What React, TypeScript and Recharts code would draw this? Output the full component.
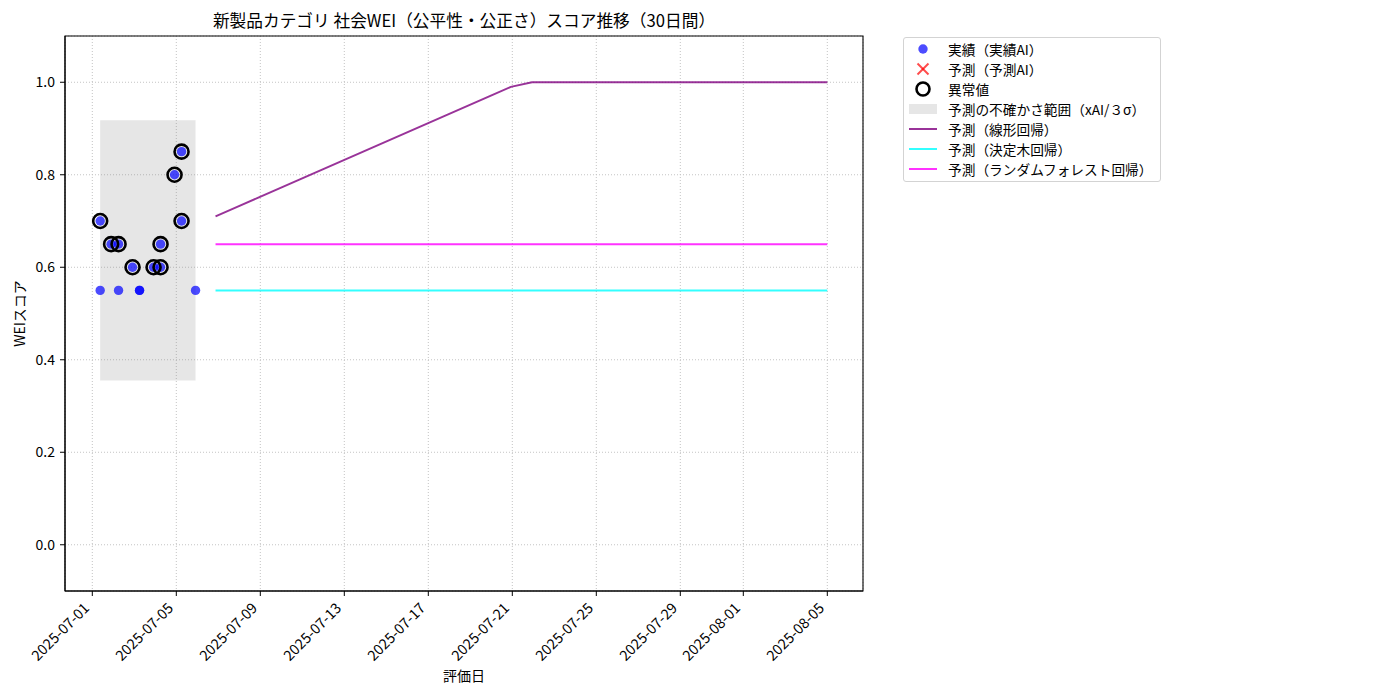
import React from "react";
import {
  CartesianGrid,
  ComposedChart,
  Label,
  Legend,
  Line,
  ReferenceArea,
  Scatter,
  XAxis,
  YAxis,
} from "recharts";

const DAY = 86400000;
const ts = (s: string) => Date.parse(s + "Z");

// actual (実績AI) observations
const ACTUAL_DATES = [
  "2025-07-01T09:00", "2025-07-01T09:00", "2025-07-01T21:30", "2025-07-02T06:00", "2025-07-02T06:00",
  "2025-07-02T22:00", "2025-07-03T06:00", "2025-07-03T06:00", "2025-07-03T22:00", "2025-07-04T06:00",
  "2025-07-04T06:00", "2025-07-04T22:00", "2025-07-05T06:00", "2025-07-05T06:00", "2025-07-05T22:00",
];
const ACTUAL_VALUES = [0.7, 0.55, 0.65, 0.65, 0.55, 0.6, 0.55, 0.55, 0.6, 0.6, 0.65, 0.8, 0.85, 0.7, 0.55];
const ANOMALY_FLAGS = [true, false, true, true, false, true, false, false, true, true, true, true, true, true, false];

// uncertainty band (xAI / 3σ)
const BAND_LOW = 0.355;
const BAND_HIGH = 0.918;

// 30-day forecasts
const FORECAST_START = "2025-07-06T20:50";
const FORECAST_END = "2025-08-05T00:00";
const LINEAR_VALUES = [
  0.71, 0.73, 0.75, 0.77, 0.79, 0.81, 0.83, 0.85, 0.87, 0.89, 0.91, 0.93, 0.95, 0.97, 0.99,
  1.0, 1.0, 1.0, 1.0, 1.0, 1.0, 1.0, 1.0, 1.0, 1.0, 1.0, 1.0, 1.0, 1.0, 1.0,
];
const TREE_VALUES = [
  0.55, 0.55, 0.55, 0.55, 0.55, 0.55, 0.55, 0.55, 0.55, 0.55, 0.55, 0.55, 0.55, 0.55, 0.55,
  0.55, 0.55, 0.55, 0.55, 0.55, 0.55, 0.55, 0.55, 0.55, 0.55, 0.55, 0.55, 0.55, 0.55, 0.55,
];
const FOREST_VALUES = [
  0.65, 0.65, 0.65, 0.65, 0.65, 0.65, 0.65, 0.65, 0.65, 0.65, 0.65, 0.65, 0.65, 0.65, 0.65,
  0.65, 0.65, 0.65, 0.65, 0.65, 0.65, 0.65, 0.65, 0.65, 0.65, 0.65, 0.65, 0.65, 0.65, 0.65,
];

const X_TICKS = [
  "2025-07-01", "2025-07-05", "2025-07-09", "2025-07-13", "2025-07-17",
  "2025-07-21", "2025-07-25", "2025-07-29", "2025-08-01", "2025-08-05",
];
const Y_TICKS = [0, 0.2, 0.4, 0.6, 0.8, 1.0];

const LEGEND_ITEMS = [
  { label: "実績（実績AI）", kind: "dot" },
  { label: "予測（予測AI）", kind: "cross" },
  { label: "異常値", kind: "ring" },
  { label: "予測の不確かさ範囲（xAI/３σ）", kind: "patch" },
  { label: "予測（線形回帰）", kind: "line", color: "#800080" },
  { label: "予測（決定木回帰）", kind: "line", color: "#00ffff" },
  { label: "予測（ランダムフォレスト回帰）", kind: "line", color: "#ff00ff" },
];

const FONT = "'Noto Sans CJK JP', 'DejaVu Sans', sans-serif";

const actualData = ACTUAL_DATES.map((d, i) => ({ x: ts(d), y: ACTUAL_VALUES[i] }));
const anomalyData = actualData.filter((_, i) => ANOMALY_FLAGS[i]);

const fStart = ts(FORECAST_START);
const fStep = (ts(FORECAST_END) - fStart) / (LINEAR_VALUES.length - 1);
const forecastDates = LINEAR_VALUES.map((_, i) => fStart + i * fStep);
const linearData = forecastDates.map((x, i) => ({ x, y: LINEAR_VALUES[i] }));
const treeData = forecastDates.map((x, i) => ({ x, y: TREE_VALUES[i] }));
const forestData = forecastDates.map((x, i) => ({ x, y: FOREST_VALUES[i] }));

const xDomain = [ts("2025-07-01T00:00") - 1.3 * DAY, ts("2025-08-05T00:00") + 1.7 * DAY];
const yDomain = [-0.1, 1.1];

function fmtDate(v: number) {
  const d = new Date(v);
  const mm = String(d.getUTCMonth() + 1).padStart(2, "0");
  const dd = String(d.getUTCDate()).padStart(2, "0");
  return `${d.getUTCFullYear()}-${mm}-${dd}`;
}

function DateTick(props: { x?: number; y?: number; payload?: { value: number } }) {
  const x = props.x ?? 0;
  const y = props.y ?? 0;
  return (
    <g transform={`translate(${x - 2},${y + 11})`}>
      <text textAnchor="end" transform="rotate(-45)" fill="#000" fontSize={14.5} fontFamily={FONT}>
        {fmtDate(props.payload?.value ?? 0)}
      </text>
    </g>
  );
}

function DotShape(props: { cx?: number; cy?: number }) {
  return <circle cx={props.cx} cy={props.cy} r={4.7} fill="#0000ff" fillOpacity={0.7} />;
}

function RingShape(props: { cx?: number; cy?: number }) {
  return <circle cx={props.cx} cy={props.cy} r={7} fill="none" stroke="#000" strokeWidth={2.6} />;
}

function LegendBox() {
  return (
    <div
      style={{
        width: 256,
        height: 143,
        border: "1px solid #d3d3d3",
        borderRadius: 3,
        background: "#fff",
        position: "relative",
        fontFamily: FONT,
        fontSize: 13.7,
        color: "#000",
      }}
    >
      {LEGEND_ITEMS.map((item, i) => (
        <div key={item.label} style={{ position: "absolute", left: 0, top: 1 + i * 20, height: 20, width: 256 }}>
          <svg width={40} height={20} style={{ position: "absolute", left: 0, top: 0 }}>
            {item.kind === "dot" && <circle cx={19} cy={10} r={4.7} fill="#0000ff" fillOpacity={0.7} />}
            {item.kind === "cross" && (
              <g stroke="#ff0000" strokeOpacity={0.7} strokeWidth={2}>
                <line x1={13.5} y1={4.5} x2={24.5} y2={15.5} />
                <line x1={13.5} y1={15.5} x2={24.5} y2={4.5} />
              </g>
            )}
            {item.kind === "ring" && <circle cx={19} cy={10} r={6.5} fill="none" stroke="#000" strokeWidth={2.6} />}
            {item.kind === "patch" && <rect x={5} y={5} width={28} height={10} fill="#808080" fillOpacity={0.2} />}
            {item.kind === "line" && (
              <line x1={5} y1={10} x2={33} y2={10} stroke={item.color} strokeOpacity={0.8} strokeWidth={2} />
            )}
          </svg>
          <span style={{ position: "absolute", left: 44, top: 0, lineHeight: "20px", whiteSpace: "nowrap" }}>
            {item.label}
          </span>
        </div>
      ))}
    </div>
  );
}

export default function App() {
  return (
    <div style={{ position: "absolute", left: 0, top: 0, width: 1400, height: 700, background: "#fff", fontFamily: FONT }}>
      <div
        style={{
          position: "absolute",
          left: 65,
          top: 8,
          width: 798,
          textAlign: "center",
          fontSize: 16.7,
          lineHeight: "24px",
          color: "#000",
        }}
      >
        新製品カテゴリ 社会WEI（公平性・公正さ）スコア推移（30日間）
      </div>
      <ComposedChart width={1400} height={700} margin={{ top: 36, right: 537, bottom: 0, left: 0 }}>
        <CartesianGrid stroke="#c4c4c4" strokeDasharray="1 2" />
        <XAxis
          dataKey="x"
          type="number"
          scale="time"
          domain={xDomain}
          ticks={X_TICKS.map((t) => ts(t + "T00:00"))}
          tick={<DateTick />}
          tickSize={5}
          tickLine={{ stroke: "#000" }}
          axisLine={{ stroke: "#000" }}
          height={109}
          interval={0}
          allowDataOverflow
        >
          <Label
            content={(p: any) => (
              <text
                x={p.viewBox.x + p.viewBox.width / 2}
                y={p.viewBox.y + 90}
                textAnchor="middle"
                fontSize={14}
                fontFamily={FONT}
                fill="#000"
              >
                評価日
              </text>
            )}
          />
        </XAxis>
        <YAxis
          type="number"
          domain={yDomain}
          ticks={Y_TICKS}
          tickFormatter={(v: number) => v.toFixed(1)}
          tick={{ fill: "#000", fontSize: 14, fontFamily: FONT }}
          tickSize={5}
          tickMargin={5}
          tickLine={{ stroke: "#000" }}
          axisLine={{ stroke: "#000" }}
          width={65}
          allowDataOverflow
        >
          <Label
            content={(p: any) => {
              const cx = p.viewBox.x + 19;
              const cy = p.viewBox.y + p.viewBox.height / 2;
              return (
                <text
                  x={cx}
                  y={cy}
                  transform={`rotate(-90, ${cx}, ${cy})`}
                  textAnchor="middle"
                  dominantBaseline="central"
                  fontSize={14}
                  fontFamily={FONT}
                  fill="#000"
                >
                  WEIスコア
                </text>
              );
            }}
          />
        </YAxis>
        <ReferenceArea
          x1={actualData[0].x}
          x2={actualData[actualData.length - 1].x}
          y1={BAND_LOW}
          y2={BAND_HIGH}
          fill="#808080"
          fillOpacity={0.2}
          stroke="none"
        />
        <Scatter data={actualData} dataKey="y" shape={<DotShape />} isAnimationActive={false} />
        <Scatter data={anomalyData} dataKey="y" shape={<RingShape />} isAnimationActive={false} />
        <Line data={linearData} dataKey="y" type="linear" stroke="#800080" strokeOpacity={0.8} strokeWidth={2} dot={false} activeDot={false} isAnimationActive={false} />
        <Line data={treeData} dataKey="y" type="linear" stroke="#00ffff" strokeOpacity={0.8} strokeWidth={2} dot={false} activeDot={false} isAnimationActive={false} />
        <Line data={forestData} dataKey="y" type="linear" stroke="#ff00ff" strokeOpacity={0.8} strokeWidth={2} dot={false} activeDot={false} isAnimationActive={false} />
        {/* axes frame (top/right spines) */}
        <ReferenceArea
          x1={xDomain[0]}
          x2={xDomain[1]}
          y1={yDomain[0]}
          y2={yDomain[1]}
          fill="none"
          stroke="#000"
          strokeWidth={1.1}
          ifOverflow="visible"
        />
        <Legend
          layout="horizontal"
          verticalAlign="middle"
          align="center"
          content={() => <LegendBox />}
          wrapperStyle={{ left: 903, top: 37, width: 258, height: 145 }}
        />
      </ComposedChart>
    </div>
  );
}
